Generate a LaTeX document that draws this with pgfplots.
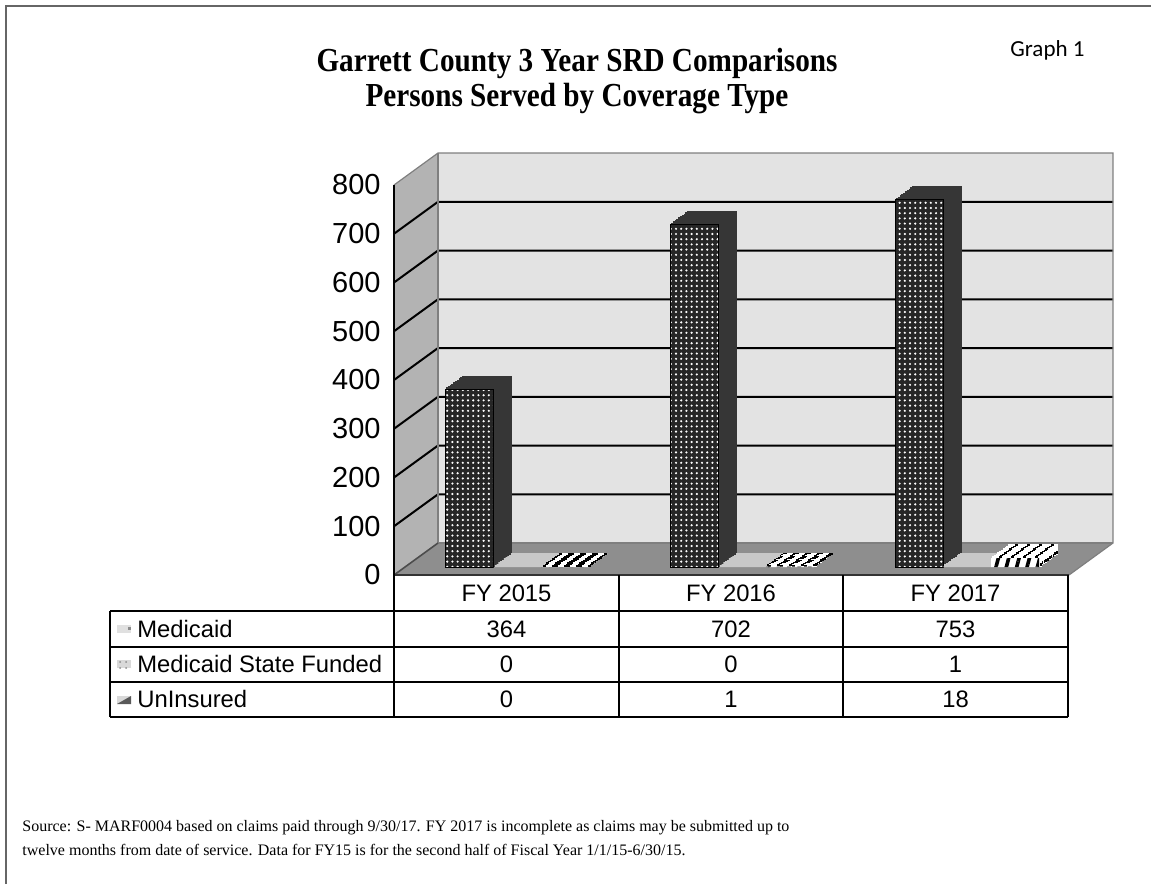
\documentclass[border=0pt]{standalone}
\usepackage{fontspec}
\setmainfont{Liberation Serif}
\newfontfamily\arial{Liberation Sans}
\newfontfamily\calibri{Carlito}
\usepackage{pgfplots}
\usepackage{pgfplotstable}
\pgfplotsset{compat=1.18}
\usetikzlibrary{patterns,patterns.meta}

\definecolor{backwall}{HTML}{E3E3E3}
\definecolor{leftwall}{HTML}{B3B3B3}
\definecolor{floorc}{HTML}{8E8E8E}
\definecolor{wallborder}{HTML}{7F7F7F}
\definecolor{medside}{HTML}{363636}
\definecolor{msfc}{HTML}{C8C8C8}

\pgfplotstableread{
x med msf unins
0 364 0 0
1 702 0 1
2 753 1 18
}\data

\begin{document}
\begin{tikzpicture}
\begin{scope}[x=0.5pt,y=-0.5pt]
\useasboundingbox (0,0) rectangle (1151,884);
\draw[line width=1.2pt, black!60] (6,884) -- (6,6) -- (1151,6);
\end{scope}
\begin{axis}[
  at={(197pt,-287.5pt)}, anchor=south west,
  scale only axis, width=337.5pt, height=195pt,
  xmin=-0.5, xmax=2.5, ymin=0, ymax=800,
  clip=false,
  axis line style={draw=none},
  xtick=\empty,
  ytick={0,100,...,800},
  tick style={draw=none},
  yticklabel style={font=\arial\fontsize{14.5}{17}\selectfont, anchor=east, inner sep=0pt, xshift=-6.5pt},
  /pgf/number format/assume math mode=true,
]
% walls
\fill[leftwall] (axis cs:-0.5,0) -- (axis cs:-0.5,800) -- (axis cs:-0.30444,865.64) -- (axis cs:-0.30444,65.64) -- cycle;
\fill[backwall] (axis cs:-0.30444,65.64) rectangle (axis cs:2.69556,865.64);
\fill[floorc] (axis cs:-0.5,0) -- (axis cs:2.5,0) -- (axis cs:2.69556,65.64) -- (axis cs:-0.30444,65.64) -- cycle;
% grid lines
\draw[line width=1pt] (axis cs:-0.5,100) -- (axis cs:-0.30444,165.64) -- (axis cs:2.69556,165.64);
\draw[line width=1pt] (axis cs:-0.5,200) -- (axis cs:-0.30444,265.64) -- (axis cs:2.69556,265.64);
\draw[line width=1pt] (axis cs:-0.5,300) -- (axis cs:-0.30444,365.64) -- (axis cs:2.69556,365.64);
\draw[line width=1pt] (axis cs:-0.5,400) -- (axis cs:-0.30444,465.64) -- (axis cs:2.69556,465.64);
\draw[line width=1pt] (axis cs:-0.5,500) -- (axis cs:-0.30444,565.64) -- (axis cs:2.69556,565.64);
\draw[line width=1pt] (axis cs:-0.5,600) -- (axis cs:-0.30444,665.64) -- (axis cs:2.69556,665.64);
\draw[line width=1pt] (axis cs:-0.5,700) -- (axis cs:-0.30444,765.64) -- (axis cs:2.69556,765.64);
% borders
\draw[wallborder, line width=0.6pt] (axis cs:-0.5,800) -- (axis cs:-0.30444,865.64) -- (axis cs:2.69556,865.64) -- (axis cs:2.69556,65.64) -- (axis cs:2.5,0);
\draw[wallborder, line width=0.6pt] (axis cs:-0.30444,865.64) -- (axis cs:-0.30444,65.64) -- (axis cs:2.69556,65.64);
\draw[black!70, line width=0.8pt] (axis cs:-0.5,0) -- (axis cs:-0.30444,65.64);
\draw[black!80, line width=0.8pt] (axis cs:-0.5,0) -- (axis cs:2.5,0);
\draw[black, line width=1pt] (axis cs:-0.5,0) -- (axis cs:-0.5,800);

% Medicaid: depth copies then front face
\pgfplotsinvokeforeach{10,9,8,7,6,5,4,3,2,1}{
\addplot[ybar, bar width=24pt, bar shift=-18.75pt, fill=medside, draw=medside, line width=0.8pt,
  xshift=0.9pt*#1, yshift=4pt+0.65pt*#1, forget plot] table[x=x,y=med]{\data};
}
\addplot[ybar, bar width=24pt, bar shift=-18.75pt, yshift=4pt, draw=black, line width=0.5pt,
  preaction={fill=black!85}, pattern={Dots[distance=2.6pt,radius=0.6pt]}, pattern color=white] table[x=x,y=med]{\data};

% Medicaid State Funded
\pgfplotsinvokeforeach{10,9,8,7,6,5,4,3,2,1}{
\addplot[ybar, bar width=24pt, bar shift=5.25pt, fill=msfc, draw=msfc, line width=0.8pt,
  xshift=0.9pt*#1, yshift=4pt+0.65pt*#1, forget plot] table[x=x,y=msf]{\data};
}
\addplot[ybar, bar width=24pt, bar shift=5.25pt, yshift=4pt, draw=none, fill=msfc] table[x=x,y=msf]{\data};

% UnInsured
\pgfplotsinvokeforeach{10,9,8,7,6,5,4,3,2,1}{
\addplot[ybar, bar width=24pt, bar shift=29.25pt, fill=white, draw=black, line width=0.8pt,
  dash pattern=on 1.5pt off 4.5pt, preaction={draw=white, solid},
  xshift=0.9pt*#1, yshift=4pt+0.65pt*#1, forget plot] table[x=x,y=unins]{\data};
}
\addplot[ybar, bar width=24pt, bar shift=29.25pt, yshift=4pt, draw=none,
  preaction={fill=white}, pattern={Lines[angle=75,distance=5pt,line width=1.8pt]}, pattern color=black] table[x=x,y=unins]{\data};
\end{axis}

\begin{scope}[x=0.5pt,y=-0.5pt]
% table
\draw[line width=0.7pt] (110,611) -- (1068,611) (110,647) -- (1068,647) (110,682) -- (1068,682) (110,717) -- (1068,717);
\draw[line width=0.7pt] (110,611) -- (110,717) (394,575) -- (394,717) (619,575) -- (619,717) (843,575) -- (843,717) (1068,575) -- (1068,717);
\begin{scope}[every node/.style={font=\arial\fontsize{11.9}{14}\selectfont, inner sep=0pt, anchor=base}]
\node at (506.5,601) {FY 2015};
\node at (731,601) {FY 2016};
\node at (955.5,601) {FY 2017};
\node[anchor=base west] at (137,637) {Medicaid};
\node[anchor=base west] at (137,672.5) {Medicaid State Funded};
\node[anchor=base west] at (137,707.5) {UnInsured};
\node at (506.5,637) {364};
\node at (731,637) {702};
\node at (955.5,637) {753};
\node at (506.5,672.5) {0};
\node at (731,672.5) {0};
\node at (955.5,672.5) {1};
\node at (506.5,707.5) {0};
\node at (731,707.5) {1};
\node at (955.5,707.5) {18};
\end{scope}
% legend keys
\fill[black!12] (117,625) rectangle (131,633);
\fill[black!45] (128,627) rectangle (131,630);
\fill[black!15] (117,660) rectangle (131,668);
\fill[black!40, pattern=dots, pattern color=black!45] (117,660) rectangle (131,668);
\fill[black!15] (117,696) rectangle (131,704);
\fill[black!65] (117,704) -- (131,704) -- (131,696) -- cycle;
% titles
\node[anchor=base, inner sep=0pt, font=\bfseries\fontsize{14.6}{17}\selectfont] at (577,71) {\scalebox{1}[1.15]{Garrett County 3 Year SRD Comparisons}};
\node[anchor=base, inner sep=0pt, font=\bfseries\fontsize{14.6}{17}\selectfont] at (577,106) {\scalebox{1}[1.15]{Persons Served by Coverage Type}};
\node[anchor=base west, inner sep=0pt, font=\calibri\fontsize{11.5}{14}\selectfont] at (1010,56) {Graph 1};
\node[anchor=base west, inner sep=0pt, font=\fontsize{8}{10}\selectfont] at (22,831) {Source: S- MARF0004 based on claims paid through 9/30/17. FY 2017 is incomplete as claims may be submitted up to};
\node[anchor=base west, inner sep=0pt, font=\fontsize{8}{10}\selectfont] at (22,855) {twelve months from date of service. Data for FY15 is for the second half of Fiscal Year 1/1/15-6/30/15.};
\end{scope}
\end{tikzpicture}
\end{document}
